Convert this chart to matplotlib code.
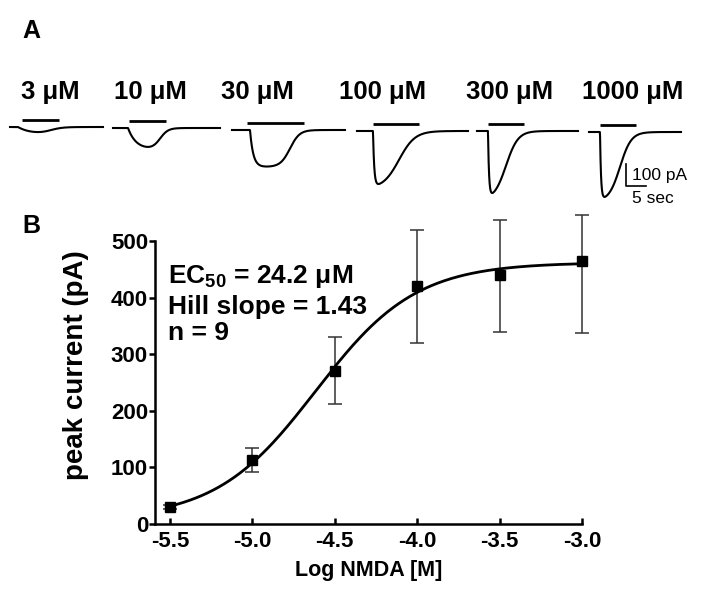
import numpy as np
import matplotlib
matplotlib.use('Agg')
import matplotlib.pyplot as plt

plt.rcParams['font.family'] = ['Liberation Sans', 'DejaVu Sans']
plt.rcParams['mathtext.fontset'] = 'custom'
plt.rcParams['mathtext.rm'] = 'Liberation Sans'
plt.rcParams['mathtext.bf'] = 'Liberation Sans:bold'

# ---- panel A: example currents ----
conc_labels = ['3 μM', '10 μM', '30 μM', '100 μM', '300 μM', '1000 μM']
peak_pA = [23, 86, 166, 241, 282, 295]          # peak inward current of each trace
trace_start = [2.5, 28.25, 58.0, 89.25, 119.25, 147.25]   # s
trace_end = [25.75, 55.0, 86.25, 117.0, 144.5, 170.25]
onset = [4.5, 32.0, 62.5, 93.25, 122.0, 150.0]
bar_start = [5.5, 32.25, 61.75, 93.25, 122.0, 150.0]
bar_end = [14.75, 41.5, 76.0, 104.75, 131.0, 159.0]
tau_rise = [3.0, 2.0, 0.8, 0.3, 0.25, 0.25]
t_half = [8.0, 8.0, 10.0, 6.5, 4.5, 5.0]
t_width = [1.5, 1.0, 1.2, 2.0, 1.5, 1.4]
baseline = [13.6, 9.1, 0.0, -4.5, -4.5, -9.1]

# ---- panel B: dose response ----
log_nmda = [-5.5, -5.0, -4.5, -4.0, -3.5, -3.0]
peak_mean = [30, 113, 270, 420, 440, 465]
err_low = [4, 21, 58, 100, 101, 128]
err_high = [4, 21, 60, 99, 97, 81]
ec50_log = np.log10(24.2e-6)
hill = 1.43
top, bottom = 462, 8

fig = plt.figure(figsize=(7.04, 6.0), dpi=100)

axA = fig.add_axes([0, 1 - 210 / 600, 1, 100 / 600])
axA.set_xlim(0, 176)
axA.set_ylim(-363.6, 90.9)
axA.axis('off')
for i in range(len(conc_labels)):
    t = np.linspace(trace_start[i], trace_end[i], 400)
    dt = t - onset[i]
    s = np.where(dt > 0, 1 - np.exp(-np.clip(dt, 0, None) / tau_rise[i]), 0)
    s = s / (1 + np.exp((dt - t_half[i]) / t_width[i]))
    s = s / s.max()
    axA.plot(t, baseline[i] - peak_pA[i] * s, color='black', lw=1.5)
    axA.plot([bar_start[i], bar_end[i]], [baseline[i] + 30, baseline[i] + 30],
             color='black', lw=2.0, solid_capstyle='butt')
# scale bar 100 pA / 5 s
axA.plot([156.5, 156.5, 161.5], [-154.5, -254.5, -254.5], color='black', lw=1.2)
fig.text(632 / 704, 1 - 175 / 600, '100 pA', fontsize=12.5, va='center', ha='left')
fig.text(632 / 704, 1 - 198 / 600, '5 sec', fontsize=12.5, va='center', ha='left')

label_x = [50, 150, 257, 383, 510, 633]
for lx, lab in zip(label_x, conc_labels):
    fig.text(lx / 704, 1 - 92 / 600, lab, fontsize=18.5, fontweight='bold',
             ha='center', va='center')

fig.text(31 / 704, 1 - 31 / 600, 'A', fontsize=18, fontweight='bold', ha='center', va='center')
fig.text(31 / 704, 1 - 226 / 600, 'B', fontsize=18, fontweight='bold', ha='center', va='center')

axB = fig.add_axes([155 / 704, 1 - 524 / 600, 427 / 704, 283 / 600])
xfit = np.linspace(-5.5, -3.0, 300)
yfit = bottom + (top - bottom) / (1 + 10 ** ((ec50_log - xfit) * hill))
axB.plot(xfit, yfit, color='black', lw=2.0, zorder=3)
axB.errorbar(log_nmda, peak_mean, yerr=[err_low, err_high], fmt='none',
             ecolor='#333333', elinewidth=1.1, capsize=5, capthick=1.1, clip_on=False)
axB.plot(log_nmda, peak_mean, 's', color='black', ms=7.5, zorder=4, clip_on=False)
axB.set_xlim(-5.591, -3.0)
axB.set_ylim(0, 500)
axB.set_xticks(log_nmda)
axB.set_xticklabels(['%.1f' % v for v in log_nmda])
axB.set_yticks([0, 100, 200, 300, 400, 500])
for side in ['top', 'right']:
    axB.spines[side].set_visible(False)
for side in ['left', 'bottom']:
    axB.spines[side].set_linewidth(1.8)
axB.tick_params(axis='x', direction='in', length=4, width=1.8, labelsize=16, pad=5)
axB.tick_params(axis='y', direction='out', length=4, width=1.8, labelsize=16, pad=1)
for lab in axB.get_xticklabels() + axB.get_yticklabels():
    lab.set_fontweight('bold')
axB.set_xlabel('Log NMDA [M]', fontsize=15.5, fontweight='bold', labelpad=6)
axB.set_ylabel('peak current (pA)', fontsize=20, fontweight='bold', labelpad=3)
axB.yaxis.set_label_coords(-0.155, 0.562)

fig.text(168 / 704, 1 - 283 / 600, r'EC$_{\mathregular{50}}$ = 24.2 μM', fontsize=19,
         fontweight='bold', ha='left', va='baseline')
fig.text(168 / 704, 1 - 314 / 600, 'Hill slope = 1.43', fontsize=19,
         fontweight='bold', ha='left', va='baseline')
fig.text(168 / 704, 1 - 340 / 600, 'n = 9', fontsize=19,
         fontweight='bold', ha='left', va='baseline')

fig.savefig('out.png', dpi=100)
